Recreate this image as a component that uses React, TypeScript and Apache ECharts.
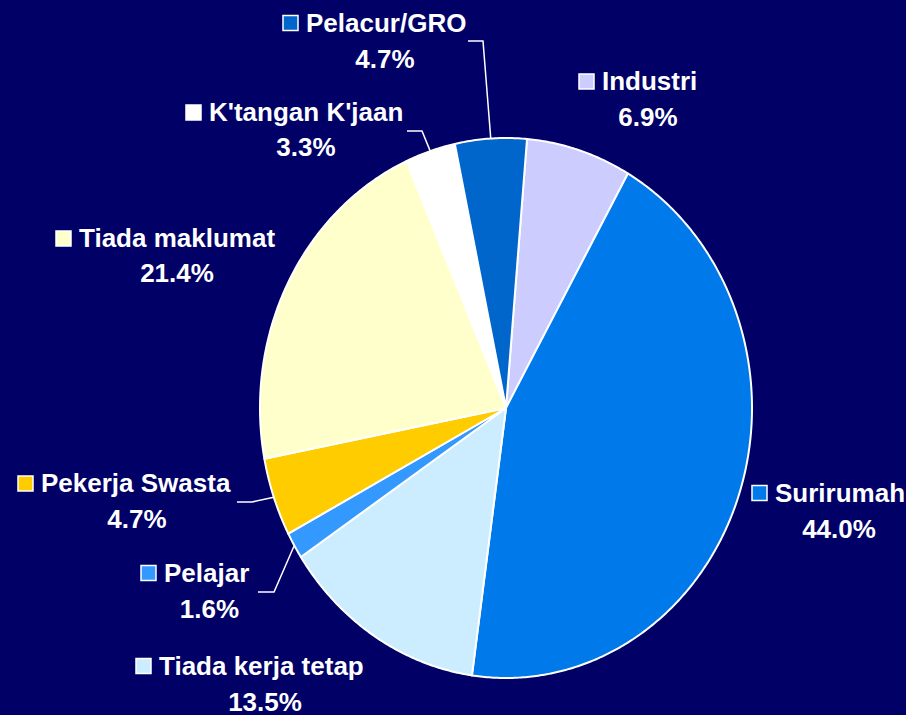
import React, { useEffect, useRef } from "react";
import * as echarts from "echarts";

// ---- data ----
const CATEGORIES = [
  "Industri",
  "Surirumah",
  "Tiada kerja tetap",
  "Pelajar",
  "Pekerja Swasta",
  "Tiada maklumat",
  "K'tangan K'jaan",
  "Pelacur/GRO",
];
const SHARES = [6.9, 44.0, 13.5, 1.6, 4.7, 21.4, 3.3, 4.7];
const VALUE_LABELS = ["6.9%", "44.0%", "13.5%", "1.6%", "4.7%", "21.4%", "3.3%", "4.7%"];

// ---- styles / layout ----
const COLORS = [
  "#CCCCFF",
  "#0079EA",
  "#CCECFF",
  "#3399FF",
  "#FFCC00",
  "#FFFFCC",
  "#FFFFFF",
  "#0066CC",
];
const BG = "#000066";
const CX = 506;
const CY = 408;
const RX = 246;
const RY = 270;
const START_DEG = 4.9; // clockwise from 12 o'clock
const FONT = "bold 26px 'Liberation Sans', Arial, sans-serif";

type Layout = { nameX: number; nameY: number; valX: number; valY: number; elbow?: number[][] };
const LABEL_LAYOUT: Layout[] = [
  { nameX: 602, nameY: 81, valX: 648, valY: 116.5 },
  { nameX: 775, nameY: 492.5, valX: 839, valY: 529 },
  { nameX: 159, nameY: 665.5, valX: 265, valY: 701.5 },
  { nameX: 164, nameY: 572.5, valX: 209.5, valY: 609, elbow: [[258, 592], [274, 592]] },
  { nameX: 41, nameY: 483, valX: 137, valY: 519, elbow: [[237, 502], [252, 502]] },
  { nameX: 79, nameY: 238, valX: 177, valY: 272.5 },
  { nameX: 209, nameY: 112, valX: 306, valY: 147, elbow: [[407, 131], [422, 131]] },
  { nameX: 306, nameY: 22.5, valX: 385, valY: 58.5, elbow: [[468, 41], [483, 41]] },
];

function ellipsePoint(deg: number): number[] {
  const r = (deg * Math.PI) / 180;
  return [CX + RX * Math.sin(r), CY - RY * Math.cos(r)];
}

export default function App() {
  const ref = useRef<HTMLDivElement>(null);

  useEffect(() => {
    if (!ref.current) return;
    const chart = echarts.init(ref.current, null, { renderer: "svg" });
    const total = SHARES.reduce((a, b) => a + b, 0);

    const renderItem = (params: any, api: any) => {
      const i = params.dataIndex;
      let before = 0;
      for (let j = 0; j < i; j++) before += SHARES[j];
      const a0 = START_DEG + (before / total) * 360;
      const a1 = a0 + (api.value(0) / total) * 360;
      const pts: number[][] = [[CX, CY]];
      const steps = Math.max(4, Math.ceil((a1 - a0) / 0.5));
      for (let k = 0; k <= steps; k++) {
        pts.push(ellipsePoint(a0 + ((a1 - a0) * k) / steps));
      }
      const lay = LABEL_LAYOUT[i];
      const children: any[] = [
        {
          type: "polygon",
          shape: { points: pts },
          style: { fill: COLORS[i], stroke: "#FFFFFF", lineWidth: 2, lineJoin: "round" },
        },
        {
          type: "rect",
          shape: { x: lay.nameX - 23, y: lay.nameY - 7, width: 15, height: 15 },
          style: { fill: COLORS[i], stroke: "#FFFFFF", lineWidth: 1.5 },
        },
        {
          type: "text",
          style: {
            text: CATEGORIES[i],
            x: lay.nameX,
            y: lay.nameY,
            font: FONT,
            fill: "#FFFFFF",
            align: "left",
            verticalAlign: "middle",
            textAlign: "left",
            textVerticalAlign: "middle",
          },
        },
        {
          type: "text",
          style: {
            text: VALUE_LABELS[i],
            x: lay.valX,
            y: lay.valY,
            font: FONT,
            fill: "#FFFFFF",
            align: "center",
            verticalAlign: "middle",
            textAlign: "center",
            textVerticalAlign: "middle",
          },
        },
      ];
      if (lay.elbow) {
        const mid = ellipsePoint((a0 + a1) / 2);
        children.push({
          type: "polyline",
          shape: { points: [...lay.elbow, mid] },
          style: { stroke: "#FFFFFF", lineWidth: 1.5, fill: null },
        });
      }
      return { type: "group", children };
    };

    chart.setOption({
      animation: false,
      backgroundColor: BG,
      series: [
        {
          type: "custom",
          coordinateSystem: "none",
          renderItem,
          data: SHARES.map((v, i) => ({ name: CATEGORIES[i], value: [v] })),
        },
      ],
    });

    return () => chart.dispose();
  }, []);

  return (
    <div
      ref={ref}
      style={{ position: "fixed", left: 0, top: 0, width: 906, height: 715 }}
    />
  );
}
